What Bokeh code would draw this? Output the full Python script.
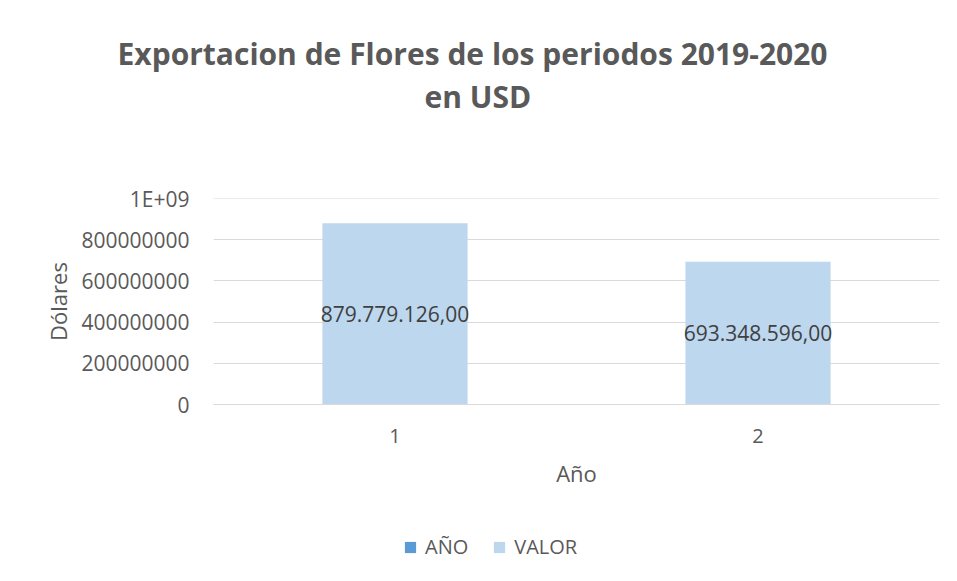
from bokeh.plotting import figure
from bokeh.layouts import column
from bokeh.models import (ColumnDataSource, FactorRange, Range1d, Title, Legend, LegendItem,
                          LabelSet, CustomJSTickFormatter, SingleIntervalTicker, Span)
from bokeh.core.properties import value
from bokeh.embed import file_html
from bokeh.resources import INLINE

# ---- data ----
categories = ["1", "2"]
ano_values = [1, 2]
valor_values = [879779126.00, 693348596.00]
valor_labels = ["879.779.126,00", "693.348.596,00"]
series_names = ["AÑO", "VALOR"]
title_line1 = "Exportacion de Flores de los periodos 2019-2020"
title_line2 = "en USD"

FONT = "Open Sans"
GREY = "#595959"
C_ANO = "#5B9BD5"
C_VAL = "#BDD7EE"

src = ColumnDataSource(dict(cat=categories, ano=ano_values, valor=valor_values,
                            mid=[v / 2 for v in valor_values], lab=valor_labels))

p = figure(frame_width=726, frame_height=206,
           x_range=FactorRange(factors=categories, range_padding=0),
           y_range=Range1d(0, 1e9), output_backend="svg", toolbar_location=None,
           min_border_left=213, min_border_right=10, min_border_top=0, min_border_bottom=100)

def spacer(s):
    return Title(text=" ", text_font_size="1px", standoff=s)

# outermost spacer is the figure's own title
p.title.text = " "
p.title.text_font_size = "1px"
p.title.standoff = 27

# stacked from the frame outwards
p.add_layout(spacer(79), "above")
p.add_layout(Title(text=title_line2, align="left", text_font=FONT, text_font_size="30px",
                   text_font_style="bold", text_color=GREY, standoff=0, offset=211), "above")
p.add_layout(Title(text=title_line1, align="left", text_font=FONT, text_font_size="30px",
                   text_font_style="bold", text_color=GREY, standoff=0, offset=-96), "above")

p.vbar(x="cat", top="ano", width=0.4, source=src, color=C_ANO)
p.vbar(x="cat", top="valor", width=0.4, source=src, color=C_VAL, line_color=None)

p.add_layout(Span(location=1e9, dimension="width", line_color="#D9D9D9", line_width=1))

labels = LabelSet(x="cat", y="mid", text="lab", source=src, text_align="center",
                  text_baseline="middle", text_font=value(FONT), text_font_size="21px",
                  text_color="#404040")
p.add_layout(labels)

p.yaxis.ticker = SingleIntervalTicker(interval=2e8)
p.yaxis.formatter = CustomJSTickFormatter(code="""
    if (tick >= 1e9) { const e = Math.floor(Math.log10(tick)); return (tick/Math.pow(10,e)).toFixed(0) + 'E+' + String(e).padStart(2,'0'); }
    return tick.toFixed(0);
""")
p.yaxis.axis_line_color = None
p.yaxis.major_tick_line_color = None
p.yaxis.minor_tick_line_color = None
p.yaxis.major_label_standoff = 18
p.yaxis.axis_label = "Dólares"
p.yaxis.axis_label_standoff = 5
p.yaxis.major_label_text_font_size = "21px"

p.xaxis.axis_line_color = "#D9D9D9"
p.xaxis.major_tick_line_color = None
p.xaxis.major_label_standoff = 18
p.xaxis.axis_label = "Año"
p.xaxis.axis_label_standoff = 12
p.xaxis.major_label_text_font_size = "20px"

for ax in (p.xaxis, p.yaxis):
    ax.major_label_text_font = FONT
    ax.major_label_text_color = GREY
    ax.axis_label_text_font = FONT
    ax.axis_label_text_font_size = "22px"
    ax.axis_label_text_font_style = "normal"
    ax.axis_label_text_color = GREY

p.xgrid.grid_line_color = None
p.ygrid.grid_line_color = "#D9D9D9"
p.ygrid.grid_line_width = 1
p.outline_line_color = None

# ---- legend strip below the chart ----
leg = figure(width=949, height=70, x_range=FactorRange(factors=categories), y_range=Range1d(-2, -1),
             output_backend="svg", toolbar_location=None, x_axis_location=None, y_axis_location=None,
             min_border=0)
leg.grid.visible = False
leg.outline_line_color = None
l_ano = leg.vbar(x="cat", top="ano", width=0, source=src, fill_color=C_ANO, line_color=None)
l_val = leg.vbar(x="cat", top="valor", width=0, source=src, fill_color=C_VAL, line_color=None)
legend = Legend(items=[LegendItem(label=series_names[0], renderers=[l_ano]),
                       LegendItem(label=series_names[1], renderers=[l_val])],
                orientation="horizontal", location=(190, 14),
                label_text_font=FONT, label_text_font_size="20px", label_text_color=GREY,
                glyph_width=14, glyph_height=14, label_standoff=8, spacing=24,
                border_line_color=None, background_fill_alpha=0, margin=0, padding=0)
leg.add_layout(legend)

layout = column(p, leg, spacing=0)
open("out.html", "w").write(file_html(layout, INLINE))
